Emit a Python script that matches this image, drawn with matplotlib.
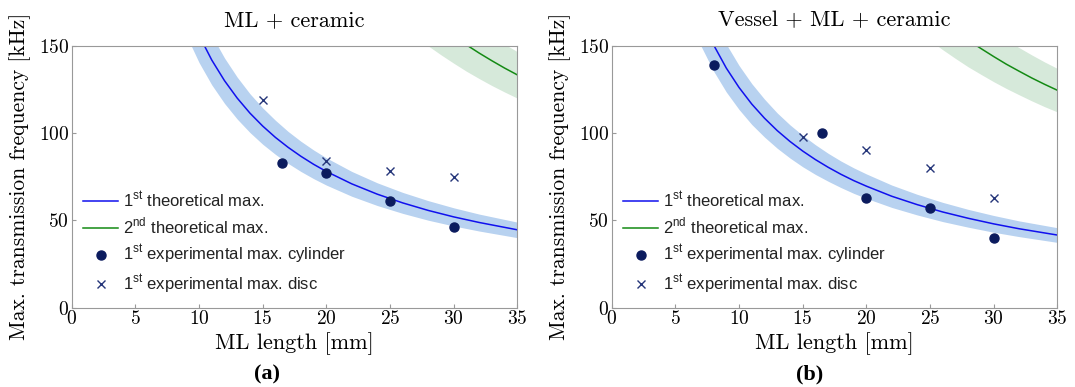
import matplotlib
matplotlib.use('Agg')
import matplotlib.pyplot as plt

plt.rcParams['font.family'] = 'serif'
plt.rcParams['font.serif'] = ['cmr10']
plt.rcParams['axes.formatter.use_mathtext'] = True
plt.rcParams['mathtext.fontset'] = 'custom'
plt.rcParams['mathtext.rm'] = 'Liberation Sans'

# (a) ML + ceramic -- theoretical curves
len_a1 = [9, 10, 11, 12, 13, 14, 15, 16, 17, 18, 19, 20, 22, 24, 26, 28, 30, 32, 35]
th1_a = [173.3, 156.0, 141.8, 130.0, 120.0, 111.4, 104.0, 97.5, 91.8, 86.7, 82.1,
         78.0, 70.9, 65.0, 60.0, 55.7, 52.0, 48.8, 44.6]
th1_a_lo = [156.0, 140.4, 127.6, 117.0, 108.0, 100.3, 93.6, 87.8, 82.6, 78.0, 73.9,
            70.2, 63.8, 58.5, 54.0, 50.1, 46.8, 43.9, 40.1]
th1_a_hi = [190.7, 171.6, 156.0, 143.0, 132.0, 122.5, 114.4, 107.3, 100.9, 95.3, 90.3,
            85.8, 78.0, 71.5, 66.0, 61.3, 57.2, 53.6, 49.0]
len_a2 = [27, 28, 29, 30, 31, 32, 33, 34, 35]
th2_a = [172.8, 166.6, 160.9, 155.5, 150.5, 145.8, 141.4, 137.2, 133.3]
th2_a_lo = [155.5, 149.9, 144.8, 140.0, 135.4, 131.2, 127.2, 123.5, 120.0]
th2_a_hi = [190.1, 183.3, 177.0, 171.1, 165.5, 160.4, 155.5, 150.9, 146.6]
cyl_len_a = [16.5, 20, 25, 30]
cyl_a = [83, 77, 61, 46]
disc_len_a = [15, 20, 25, 30]
disc_a = [119, 84, 78, 75]

# (b) Vessel + ML + ceramic
len_b1 = [6, 7, 8, 9, 10, 11, 12, 13, 14, 15, 16, 17, 18, 19, 20, 22, 24, 26, 28, 30, 32, 35]
th1_b = [186.8, 166.7, 150.5, 137.2, 126.1, 116.6, 108.5, 101.4, 95.2, 89.7, 84.8,
         80.4, 76.4, 72.8, 69.6, 63.8, 59.0, 54.8, 51.2, 48.0, 45.2, 41.6]
th1_b_lo = [168.1, 150.0, 135.5, 123.5, 113.5, 104.9, 97.7, 91.3, 85.7, 80.7, 76.3,
            72.4, 68.8, 65.5, 62.6, 57.4, 53.1, 49.3, 46.1, 43.2, 40.7, 37.4]
th1_b_hi = [205.5, 183.4, 165.6, 150.9, 138.7, 128.3, 119.4, 111.5, 104.7, 98.7, 93.3,
            88.4, 84.0, 80.1, 76.6, 70.2, 64.9, 60.3, 56.3, 52.8, 49.7, 45.8]
len_b2 = [25, 26, 27, 28, 29, 30, 31, 32, 33, 34, 35]
th2_b = [170.1, 164.1, 158.5, 153.2, 148.4, 143.8, 139.4, 135.4, 131.5, 127.9, 124.5]
th2_b_lo = [153.1, 147.7, 142.7, 137.9, 133.6, 129.4, 125.5, 121.9, 118.4, 115.1, 112.1]
th2_b_hi = [187.1, 180.5, 174.4, 168.5, 163.2, 158.2, 153.3, 148.9, 144.7, 140.7, 137.0]
cyl_len_b = [8, 16.5, 20, 25, 30]
cyl_b = [139, 100, 63, 57, 40]
disc_len_b = [15, 20, 25, 30]
disc_b = [98, 90, 80, 63]

labels = [r'1$^{\rm st}$ theoretical max.', r'2$^{\rm nd}$ theoretical max.',
          r'1$^{\rm st}$ experimental max. cylinder', r'1$^{\rm st}$ experimental max. disc']


def panel(ax, title, l1, t1, t1lo, t1hi, l2, t2, t2lo, t2hi, lc, c, ld, d):
    ax.fill_between(l1, t1lo, t1hi, color='#b8d2f0', lw=0)
    ax.fill_between(l2, t2lo, t2hi, color='#d6e9da', lw=0)
    h1, = ax.plot(l1, t1, color='#1010ee', lw=1.1)
    h2, = ax.plot(l2, t2, color='#148a14', lw=1.1)
    h3, = ax.plot(lc, c, 'o', color='#0b1b5e', ms=6.5, ls='none')
    h4, = ax.plot(ld, d, 'x', color='#26367a', ms=5.5, mew=1.0, ls='none')
    ax.set_xlim(0, 35)
    ax.set_ylim(0, 150)
    ax.set_xticks(range(0, 36, 5))
    ax.set_yticks([0, 50, 100, 150])
    ax.tick_params(direction='in', length=3, color='#999999', labelsize=14, pad=2)
    for s in ax.spines.values():
        s.set_color('#999999')
    ax.set_title(title, fontsize=16, pad=14)
    ax.set_xlabel('ML length [mm]', fontsize=16)
    ax.xaxis.set_label_coords(0.5, -0.095)
    ax.set_ylabel('Max. transmission frequency [kHz]', fontsize=15.5)
    ax.yaxis.set_label_coords(-0.092, 0.5)
    leg = ax.legend([h1, h2, h3, h4], labels, loc='lower left', bbox_to_anchor=(0.0, 0.0),
                    frameon=False, prop={'family': 'Liberation Sans', 'size': 12},
                    handlelength=2.1, handletextpad=0.3, labelspacing=0.38, borderaxespad=0.3)
    for t in leg.get_texts():
        t.set_color('#222222')


fig = plt.figure(figsize=(10.75, 3.87), dpi=100)
ax_a = fig.add_axes([71.7 / 1075, 79.3 / 387, 445.6 / 1075, 262 / 387])
ax_b = fig.add_axes([611.7 / 1075, 79.3 / 387, 445.6 / 1075, 262 / 387])

panel(ax_a, 'ML + ceramic', len_a1, th1_a, th1_a_lo, th1_a_hi,
      len_a2, th2_a, th2_a_lo, th2_a_hi, cyl_len_a, cyl_a, disc_len_a, disc_a)
panel(ax_b, 'Vessel + ML + ceramic', len_b1, th1_b, th1_b_lo, th1_b_hi,
      len_b2, th2_b, th2_b_lo, th2_b_hi, cyl_len_b, cyl_b, disc_len_b, disc_b)

fig.text(267 / 1075, 1 - 374 / 387, '(a)', ha='center', va='center',
         fontsize=16, fontweight='bold', family='Liberation Serif')
fig.text(810 / 1075, 1 - 374 / 387, '(b)', ha='center', va='center',
         fontsize=16, fontweight='bold', family='Liberation Serif')

fig.savefig('out.png', dpi=100)
